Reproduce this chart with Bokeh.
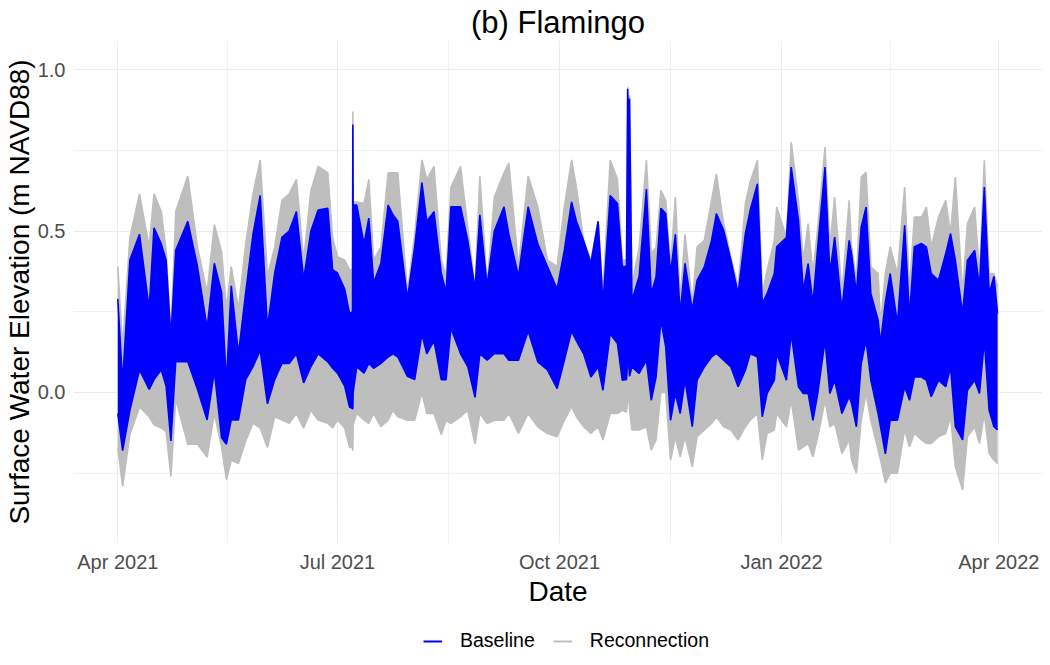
import pandas as pd
from bokeh.plotting import figure
from bokeh.layouts import column
from bokeh.models import (ColumnDataSource, Range1d, FixedTicker, DatetimeTickFormatter,
                          PrintfTickFormatter, Legend, LegendItem)
from bokeh.embed import file_html
from bokeh.resources import INLINE

# ---- data (envelope of the tidal signal) ----
dates = [
    "2021-04-01", "2021-04-03", "2021-04-06", "2021-04-10", "2021-04-14", "2021-04-16",
    "2021-04-19", "2021-04-21", "2021-04-23", "2021-04-25", "2021-04-30", "2021-05-04",
    "2021-05-08", "2021-05-11", "2021-05-14", "2021-05-16", "2021-05-18", "2021-05-21",
    "2021-05-24", "2021-05-27", "2021-05-30", "2021-06-02", "2021-06-05", "2021-06-08",
    "2021-06-11", "2021-06-14", "2021-06-17", "2021-06-20", "2021-06-23", "2021-06-27",
    "2021-06-29", "2021-07-01", "2021-07-04", "2021-07-06", "2021-07-07 06:00",
    "2021-07-07 09:00", "2021-07-07 12:00", "2021-07-09", "2021-07-12", "2021-07-14",
    "2021-07-16", "2021-07-19", "2021-07-22", "2021-07-24", "2021-07-26", "2021-07-30",
    "2021-08-02", "2021-08-05", "2021-08-07", "2021-08-10", "2021-08-13", "2021-08-15",
    "2021-08-17", "2021-08-21", "2021-08-24", "2021-08-27", "2021-08-29", "2021-09-01",
    "2021-09-04", "2021-09-08", "2021-09-10", "2021-09-14", "2021-09-18", "2021-09-22",
    "2021-09-26", "2021-09-30", "2021-10-03", "2021-10-06", "2021-10-08", "2021-10-11",
    "2021-10-14", "2021-10-17", "2021-10-19", "2021-10-22", "2021-10-25", "2021-10-27",
    "2021-10-28 18:00", "2021-10-29 06:00", "2021-10-29 15:00", "2021-10-30 00:00",
    "2021-10-31", "2021-11-03", "2021-11-06", "2021-11-08", "2021-11-10", "2021-11-12",
    "2021-11-14", "2021-11-16", "2021-11-18", "2021-11-20", "2021-11-22", "2021-11-25",
    "2021-11-27", "2021-11-30", "2021-12-03", "2021-12-05", "2021-12-08", "2021-12-11",
    "2021-12-14", "2021-12-17", "2021-12-19", "2021-12-22", "2021-12-24", "2021-12-26",
    "2021-12-29", "2021-12-30", "2022-01-03", "2022-01-05", "2022-01-08", "2022-01-10",
    "2022-01-12", "2022-01-14", "2022-01-16", "2022-01-19", "2022-01-21", "2022-01-23",
    "2022-01-26", "2022-01-29", "2022-01-30", "2022-02-01", "2022-02-03", "2022-02-05",
    "2022-02-07", "2022-02-10", "2022-02-11", "2022-02-13", "2022-02-15", "2022-02-18",
    "2022-02-21", "2022-02-23", "2022-02-25", "2022-02-28", "2022-03-02", "2022-03-04",
    "2022-03-07", "2022-03-10", "2022-03-12", "2022-03-14", "2022-03-17", "2022-03-19",
    "2022-03-22", "2022-03-24", "2022-03-26", "2022-03-28", "2022-03-30", "2022-03-31 12:00",
]

reconnection_high = [
    0.39, 0.14, 0.48, 0.615, 0.45, 0.615, 0.56, 0.44, 0.18, 0.56, 0.67, 0.45,
    0.31, 0.52, 0.435, 0.26, 0.39, 0.26, 0.46, 0.615, 0.72, 0.36, 0.45, 0.595,
    0.615, 0.66, 0.41, 0.625, 0.70, 0.68, 0.48, 0.42, 0.41, 0.38, 0.38,
    0.87, 0.59, 0.59, 0.585, 0.66, 0.41, 0.45, 0.68, 0.68, 0.68, 0.31,
    0.49, 0.72, 0.66, 0.70, 0.41, 0.36, 0.635, 0.70, 0.51, 0.32, 0.67, 0.33,
    0.605, 0.68, 0.71, 0.39, 0.67, 0.575, 0.41, 0.39, 0.575, 0.72, 0.635, 0.47,
    0.41, 0.53, 0.31, 0.72, 0.66, 0.41, 0.41, 0.945, 0.80, 0.92,
    0.33, 0.45, 0.72, 0.43, 0.45, 0.626, 0.595, 0.39, 0.605, 0.286, 0.49, 0.275,
    0.451, 0.471, 0.595, 0.677, 0.523, 0.42, 0.327, 0.585, 0.652, 0.719, 0.306, 0.378,
    0.471, 0.574, 0.481, 0.775, 0.595, 0.409, 0.523, 0.368, 0.512, 0.76, 0.451, 0.605,
    0.306, 0.595, 0.451, 0.347, 0.667, 0.682, 0.389, 0.368, 0.213, 0.37, 0.451, 0.368,
    0.636, 0.316, 0.543, 0.543, 0.574, 0.451, 0.543, 0.595, 0.492, 0.667, 0.306, 0.523,
    0.574, 0.368, 0.719, 0.368, 0.368, 0.327, 0.69,
]

reconnection_low = [
    -0.17, -0.29, -0.13, -0.045, -0.075, -0.10, -0.11, -0.12, -0.26, -0.02, -0.16, -0.16,
    -0.20, -0.065, -0.17, -0.27, -0.21, -0.22, -0.15, -0.095, -0.11, -0.17, -0.075, -0.085,
    -0.095, -0.065, -0.11, -0.055, -0.085, -0.095, -0.11, -0.085, -0.11, -0.17, -0.17,
    -0.18, -0.10, -0.065, -0.085, -0.096, -0.065, -0.106, -0.086, -0.055, -0.075, -0.086,
    -0.086, 0.0, -0.065, -0.065, -0.13, -0.086, -0.096, -0.075, -0.055, -0.16, -0.065, -0.096,
    -0.086, -0.086, -0.065, -0.127, -0.065, -0.106, -0.127, -0.137, -0.086, -0.044, -0.075, -0.106,
    -0.127, -0.106, -0.147, -0.065, -0.065, -0.055, -0.06, -0.02, 0.0, -0.05,
    -0.116, -0.116, -0.106, -0.178, -0.147, 0.0, 0.0, -0.209, -0.137, -0.199, -0.137, -0.23,
    -0.137, -0.116, -0.096, -0.075, -0.106, -0.116, -0.147, -0.106, -0.086, -0.065, -0.209, -0.127,
    -0.116, -0.065, -0.106, -0.024, -0.178, -0.168, -0.158, -0.199, -0.137, -0.024, -0.106, -0.096,
    -0.189, -0.147, -0.209, -0.25, -0.086, -0.003, -0.086, -0.178, -0.209, -0.28, -0.25, -0.25,
    -0.116, -0.168, -0.127, -0.147, -0.158, -0.158, -0.137, -0.127, -0.075, -0.23, -0.302, -0.137,
    -0.106, -0.158, -0.065, -0.189, -0.209, -0.22, -0.086,
]

baseline_high = [
    0.29, 0.03, 0.41, 0.49, 0.26, 0.51, 0.46, 0.41, 0.17, 0.44, 0.53, 0.39,
    0.20, 0.40, 0.31, 0.03, 0.33, 0.12, 0.31, 0.49, 0.61, 0.20, 0.37, 0.48,
    0.50, 0.56, 0.35, 0.50, 0.565, 0.57, 0.38, 0.37, 0.32, 0.245, 0.25,
    0.83, 0.58, 0.58, 0.46, 0.54, 0.34, 0.40, 0.58, 0.55, 0.53, 0.29,
    0.45, 0.65, 0.53, 0.56, 0.37, 0.31, 0.575, 0.575, 0.47, 0.32, 0.55, 0.33,
    0.50, 0.575, 0.49, 0.36, 0.575, 0.46, 0.39, 0.32, 0.44, 0.59, 0.53, 0.47,
    0.40, 0.53, 0.275, 0.61, 0.585, 0.39, 0.39, 0.94, 0.78, 0.91,
    0.285, 0.36, 0.63, 0.306, 0.358, 0.57, 0.554, 0.368, 0.49, 0.244, 0.40, 0.255,
    0.347, 0.389, 0.471, 0.554, 0.502, 0.409, 0.306, 0.492, 0.564, 0.646, 0.275, 0.306,
    0.368, 0.451, 0.48, 0.698, 0.533, 0.316, 0.399, 0.275, 0.451, 0.698, 0.368, 0.481,
    0.255, 0.471, 0.43, 0.306, 0.512, 0.574, 0.306, 0.224, 0.152, 0.28, 0.368, 0.213,
    0.518, 0.234, 0.451, 0.461, 0.451, 0.368, 0.347, 0.43, 0.492, 0.409, 0.244, 0.409,
    0.44, 0.327, 0.636, 0.306, 0.36, 0.244, 0.574,
]

baseline_low = [
    -0.065, -0.18, -0.055, 0.07, 0.01, 0.04, 0.07, 0.02, -0.15, 0.095, 0.095, 0.01,
    -0.085, 0.065, -0.14, -0.16, -0.085, -0.085, 0.04, 0.08, 0.13, -0.035, 0.04, 0.09,
    0.09, 0.12, 0.03, 0.08, 0.12, 0.095, 0.075, 0.06, 0.02, -0.045, -0.05,
    -0.05, 0.0, 0.08, 0.06, 0.09, 0.075, 0.09, 0.11, 0.12, 0.11, 0.05,
    0.04, 0.18, 0.12, 0.16, 0.04, 0.04, 0.20, 0.12, 0.08, -0.015, 0.12, 0.10,
    0.12, 0.12, 0.10, 0.10, 0.19, 0.095, 0.07, 0.012, 0.10, 0.19, 0.16, 0.12,
    0.048, 0.079, 0.007, 0.182, 0.152, 0.038, 0.04, 0.10, 0.10, 0.05,
    0.079, 0.059, 0.10, -0.024, 0.048, 0.224, 0.141, -0.086, -0.003, -0.065, 0.038, -0.106,
    0.038, 0.079, 0.11, 0.121, 0.10, 0.079, 0.018, 0.069, 0.121, 0.11, -0.075, -0.003,
    0.038, 0.121, 0.038, 0.182, 0.018, -0.003, -0.003, -0.086, -0.003, 0.162, -0.003, 0.038,
    -0.065, -0.013, -0.034, -0.106, 0.09, 0.162, 0.038, -0.065, -0.106, -0.19, -0.086, -0.086,
    0.018, -0.024, 0.048, 0.048, 0.038, -0.013, 0.038, 0.018, 0.079, -0.106, -0.147, 0.007,
    0.038, -0.003, 0.162, -0.055, -0.106, -0.116, 0.038,
]

x_tick_dates = ["2021-04-01", "2021-07-01", "2021-10-01", "2022-01-01", "2022-04-01"]
x_minor_dates = ["2021-05-16 12:00", "2021-08-16", "2021-11-16", "2022-02-15"]
x_limits = ["2021-03-13 15:30", "2022-04-19 02:30"]
y_ticks = [0.0, 0.5, 1.0]
y_minor_ticks = [-0.25, 0.25, 0.75]
y_limits = [-0.4675, 1.0898]

series_names = ["Baseline", "Reconnection"]
series_colors = ["#0000FF", "#BEBEBE"]


def to_ms(seq):
    return [pd.Timestamp(s).value / 1e6 for s in seq]


x_ms = to_ms(dates)
src = ColumnDataSource(dict(x=x_ms, rh=reconnection_high, rl=reconnection_low,
                            bh=baseline_high, bl=baseline_low))

FONT = "Liberation Sans"

p = figure(width=1050, height=615, x_axis_type="datetime",
           x_range=Range1d(*to_ms(x_limits)), y_range=Range1d(*y_limits),
           output_backend="svg", toolbar_location=None,
           min_border_left=73, min_border_right=8, min_border_top=40, min_border_bottom=72)

p.outline_line_color = None
p.background_fill_color = "white"
p.border_fill_color = "white"

# Reconnection (grey) first, Baseline (blue) on top
p.varea(x="x", y1="rl", y2="rh", source=src, fill_color=series_colors[1])
p.multi_line(xs=[x_ms, x_ms], ys=[reconnection_high, reconnection_low],
             line_color=series_colors[1], line_width=1.6)
p.varea(x="x", y1="bl", y2="bh", source=src, fill_color=series_colors[0])
p.multi_line(xs=[x_ms, x_ms], ys=[baseline_high, baseline_low],
             line_color=series_colors[0], line_width=1.6)

# title
p.title.text = "(b) Flamingo"
p.title.align = "center"
p.title.text_font = FONT
p.title.text_font_size = "31px"
p.title.text_font_style = "normal"
p.title.text_color = "black"
p.title.standoff = 2

# axes
p.xaxis.ticker = FixedTicker(ticks=to_ms(x_tick_dates), minor_ticks=to_ms(x_minor_dates))
p.xaxis.formatter = DatetimeTickFormatter(months="%b %Y", days="%b %Y", years="%b %Y",
                                          hours="%b %Y", minutes="%b %Y")
p.yaxis.ticker = FixedTicker(ticks=y_ticks, minor_ticks=y_minor_ticks)
p.yaxis.formatter = PrintfTickFormatter(format="%.1f")

p.xaxis.axis_label = "Date"
p.yaxis.axis_label = "Surface Water Elevation (m NAVD88)"
for ax in (p.xaxis, p.yaxis):
    ax.axis_line_color = None
    ax.major_tick_line_color = None
    ax.minor_tick_line_color = None
    ax.major_tick_out = 0
    ax.major_tick_in = 0
    ax.minor_tick_out = 0
    ax.minor_tick_in = 0
    ax.major_label_text_font = FONT
    ax.major_label_text_font_size = "20px"
    ax.major_label_text_color = "#4D4D4D"
    ax.axis_label_text_font = FONT
    ax.axis_label_text_font_size = "28px"
    ax.axis_label_text_font_style = "normal"
    ax.axis_label_text_color = "black"
p.xaxis.major_label_standoff = 7
p.xaxis.axis_label_standoff = 0
p.yaxis.major_label_standoff = 8
p.yaxis.axis_label_standoff = 0

for g in (p.xgrid, p.ygrid):
    g.grid_line_color = "#EBEBEB"
    g.grid_line_width = 1.1
    g.minor_grid_line_color = "#EBEBEB"
    g.minor_grid_line_width = 0.7

# ---- legend strip under the plot ----
lg = figure(width=1050, height=50, x_range=Range1d(0, 1), y_range=Range1d(0, 1),
            output_backend="svg", toolbar_location=None,
            min_border_left=0, min_border_right=0, min_border_top=0, min_border_bottom=0)
lg.axis.visible = False
lg.grid.visible = False
lg.outline_line_color = None
lg.border_fill_color = "white"
key_blue = lg.line(x=x_ms, y=baseline_high, line_color=series_colors[0], line_width=2,
                   visible=False)
key_grey = lg.line(x=x_ms, y=reconnection_high, line_color=series_colors[1], line_width=2,
                   visible=False)
legend = Legend(items=[LegendItem(label=series_names[0], renderers=[key_blue]),
                       LegendItem(label=series_names[1], renderers=[key_grey])],
                orientation="horizontal", location=(350, 13), padding=0, margin=0,
                spacing=18, label_standoff=18, glyph_width=19, glyph_height=20,
                label_height=20, label_text_font=FONT, label_text_font_size="19.5px",
                label_text_color="black", border_line_color=None, background_fill_alpha=0,
                inactive_fill_alpha=0)
lg.add_layout(legend)

layout = column(p, lg, spacing=0)
open("out.html", "w").write(file_html(layout, INLINE))
